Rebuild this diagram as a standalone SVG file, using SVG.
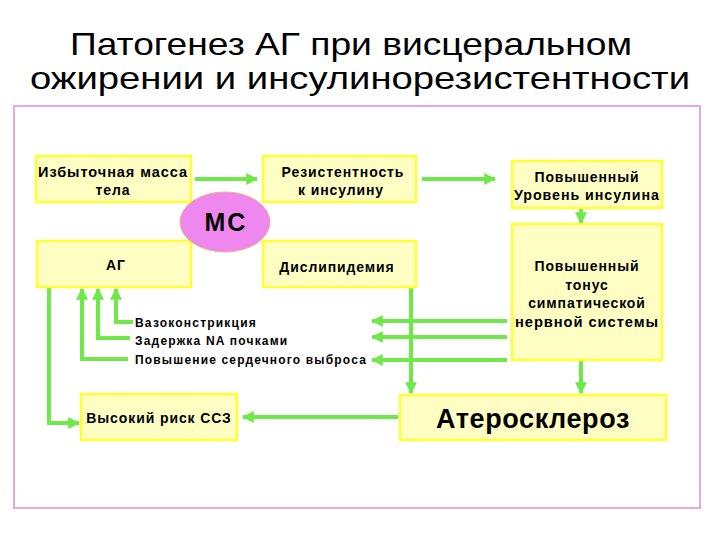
<svg xmlns="http://www.w3.org/2000/svg" width="720" height="540" viewBox="0 0 720 540">
<style>
.box{fill:#FFFFC4;stroke:#FFFF33;stroke-width:2.5}
.t{font-family:"Liberation Sans",Arial,sans-serif;font-size:14px;font-weight:bold;letter-spacing:0.9px;fill:#000;text-anchor:middle}
.s{font-family:"Liberation Sans",Arial,sans-serif;font-size:12px;font-weight:bold;fill:#000;letter-spacing:1.2px}
.title{font-family:"Liberation Sans",Arial,sans-serif;font-size:32px;fill:#000;text-anchor:middle}
.c{fill:none;stroke:#6FE84A;stroke-width:4}
</style>
<defs>
<marker id="ah" viewBox="0 0 10 10" refX="9" refY="5" markerWidth="3" markerHeight="3" orient="auto" markerUnits="strokeWidth">
<path d="M0,0 L10,5 L0,10 Z" fill="#6FE84A"/>
</marker>
</defs>
<rect width="720" height="540" fill="#fff"/>
<g id="title">
<text class="title" x="351" y="55" textLength="562" lengthAdjust="spacingAndGlyphs">Патогенез АГ при висцеральном</text>
<text class="title" x="360" y="89" textLength="660" lengthAdjust="spacingAndGlyphs">ожирении и инсулинорезистентности</text>
</g>
<rect x="14" y="106" width="686" height="402" fill="none" stroke="#E4A8E4" stroke-width="2"/>
<g id="connectors">
<line class="c" x1="195" y1="179" x2="257" y2="179" marker-end="url(#ah)"/>
<line class="c" x1="422" y1="179" x2="495" y2="179" marker-end="url(#ah)"/>
<line class="c" x1="581" y1="209" x2="581" y2="223" marker-end="url(#ah)"/>
<line class="c" x1="581" y1="361" x2="581" y2="393" marker-end="url(#ah)"/>
<line class="c" x1="411" y1="288" x2="411" y2="393" marker-end="url(#ah)"/>
<line class="c" x1="507" y1="321" x2="372" y2="321" marker-end="url(#ah)"/>
<line class="c" x1="507" y1="337" x2="372" y2="337" marker-end="url(#ah)"/>
<line class="c" x1="507" y1="360" x2="372" y2="360" marker-end="url(#ah)"/>
<line class="c" x1="398" y1="417" x2="243" y2="417" marker-end="url(#ah)"/>
<polyline class="c" points="49,288 49,423 79,423" marker-end="url(#ah)"/>
<polyline class="c" points="133,322 116,322 116,289" marker-end="url(#ah)"/>
<polyline class="c" points="130,338 98,338 98,289" marker-end="url(#ah)"/>
<polyline class="c" points="128,359 82,359 82,289" marker-end="url(#ah)"/>
</g>
<g id="n1">
<rect class="box" x="36" y="156" width="155" height="46"/>
<text class="t" x="113" y="177" textLength="150" lengthAdjust="spacingAndGlyphs">Избыточная масса</text>
<text class="t" x="113" y="195">тела</text>
</g>
<g id="n2">
<rect class="box" x="263" y="156" width="153" height="46"/>
<text class="t" x="343" y="177">Резистентность</text>
<text class="t" x="341" y="195">к инсулину</text>
</g>
<g id="n3">
<rect class="box" x="512" y="161" width="150" height="47"/>
<text class="t" x="587" y="182">Повышенный</text>
<text class="t" x="587" y="200" textLength="146" lengthAdjust="spacingAndGlyphs">Уровень инсулина</text>
</g>
<g id="n4">
<rect class="box" x="37" y="241" width="154" height="46"/>
<text class="t" x="116" y="270">АГ</text>
</g>
<g id="n5">
<rect class="box" x="263" y="241" width="153" height="46"/>
<text class="t" x="337" y="272">Дислипидемия</text>
</g>
<g id="n6">
<rect class="box" x="512" y="224" width="150" height="136"/>
<text class="t" x="587" y="271">Повышенный</text>
<text class="t" x="587" y="290">тонус</text>
<text class="t" x="587" y="308">симпатической</text>
<text class="t" x="587" y="327" textLength="144" lengthAdjust="spacingAndGlyphs">нервной системы</text>
</g>
<g id="ms">
<ellipse cx="225" cy="222" rx="45" ry="30" fill="#EE88EE" stroke="#F0B080" stroke-width="1"/>
<text x="226" y="231" style="font-family:'Liberation Sans',Arial,sans-serif;font-size:25px;font-weight:bold;letter-spacing:2px;text-anchor:middle">МС</text>
</g>
<g id="t1"><text class="s" x="135" y="327">Вазоконстрикция</text></g>
<g id="t2"><text class="s" x="135" y="345">Задержка NA почками</text></g>
<g id="t3"><text class="s" x="135" y="364" textLength="232" lengthAdjust="spacingAndGlyphs">Повышение сердечного выброса</text></g>
<g id="n7">
<rect class="box" x="81" y="394" width="156" height="46"/>
<text class="t" x="159" y="423">Высокий риск ССЗ</text>
</g>
<g id="n8">
<rect class="box" x="400" y="395" width="266" height="45"/>
<text x="533" y="428" style="font-family:'Liberation Sans',Arial,sans-serif;font-size:27px;font-weight:bold;letter-spacing:0.6px;text-anchor:middle">Атеросклероз</text>
</g>
</svg>
